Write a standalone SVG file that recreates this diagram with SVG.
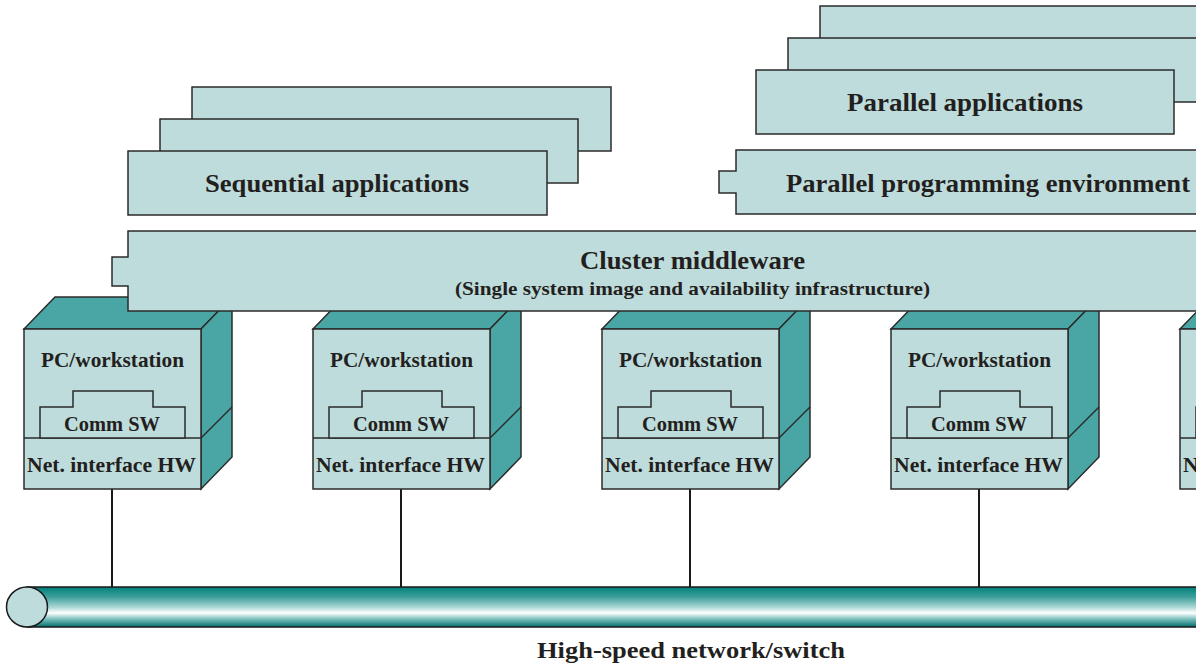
<svg xmlns="http://www.w3.org/2000/svg" width="1196" height="668" viewBox="0 0 1196 668" font-family="'Liberation Serif', 'Times New Roman', Times, serif">
<defs>
<style>
.lt{fill:#bedcdb;stroke:#2b2b2b;stroke-width:1.5}
.dk{fill:#4aa6a5;stroke:#2b2b2b;stroke-width:1.5}
.ln{stroke:#2b2b2b;stroke-width:1.5;fill:none}
text{font-family:'Liberation Serif', 'Times New Roman', Times, serif;font-weight:700;fill:#231f20;text-anchor:middle}
.t24{font-size:26px}
.t19{font-size:21px}
.t17{font-size:19px}
.t22{font-size:24px}
.wire{stroke:#1a1a1a;stroke-width:2}
</style>
<linearGradient id="bus" x1="0" y1="0" x2="0" y2="1">
<stop offset="0" stop-color="#00807b"/>
<stop offset="0.25" stop-color="#3d9f9b"/>
<stop offset="0.5" stop-color="#a8d6d3"/>
<stop offset="0.65" stop-color="#ffffff"/>
<stop offset="0.8" stop-color="#7cc0bc"/>
<stop offset="1" stop-color="#006f6b"/>
</linearGradient>
<g id="pc">
<polygon class="dk" points="24,329 55,297 232,297 201,329"/>
<polygon class="dk" points="201,329 232,297 232,457 201,489"/>
<line class="ln" x1="201" y1="438" x2="232" y2="407"/>
<rect class="lt" x="24" y="329" width="177" height="160"/>
<line class="ln" x1="24" y1="438" x2="201" y2="438"/>
<polygon class="lt" points="40,438 40,407 73,407 73,391 153,391 153,407 185,407 185,438"/>
<text class="t19" x="112.5" y="367" textLength="143" lengthAdjust="spacingAndGlyphs">PC/workstation</text>
<text class="t19" x="112" y="431" textLength="96" lengthAdjust="spacingAndGlyphs">Comm SW</text>
<text class="t19" x="111.5" y="472" textLength="169" lengthAdjust="spacingAndGlyphs">Net. interface HW</text>
</g>
</defs>

<g id="sequential-applications">
<rect class="lt" x="192" y="87" width="419" height="64"/>
<rect class="lt" x="160" y="119" width="418" height="64"/>
<rect class="lt" x="128" y="151" width="419" height="64"/>
<text class="t24" x="337" y="192" textLength="264" lengthAdjust="spacingAndGlyphs">Sequential applications</text>
</g>

<g id="parallel-applications">
<rect class="lt" x="820" y="6" width="400" height="64"/>
<rect class="lt" x="788" y="38" width="420" height="64"/>
<rect class="lt" x="756" y="70" width="418" height="64"/>
<text class="t24" x="965" y="111" textLength="236" lengthAdjust="spacingAndGlyphs">Parallel applications</text>
</g>

<g id="parallel-programming-environment">
<polygon class="lt" points="736,150 1210,150 1210,214 736,214 736,193 719,193 719,171 736,171"/>
<text class="t24" x="988" y="192" textLength="404" lengthAdjust="spacingAndGlyphs">Parallel programming environment</text>
</g>

<g id="connectors">
<line class="wire" x1="112" y1="489" x2="112" y2="588"/>
<line class="wire" x1="401" y1="489" x2="401" y2="588"/>
<line class="wire" x1="690" y1="489" x2="690" y2="588"/>
<line class="wire" x1="979" y1="489" x2="979" y2="588"/>
</g>

<g id="pc1"><use href="#pc"/></g>
<g id="pc2"><use href="#pc" x="289"/></g>
<g id="pc3"><use href="#pc" x="578"/></g>
<g id="pc4"><use href="#pc" x="867"/></g>
<g id="pc5"><use href="#pc" x="1156"/></g>

<g id="cluster-middleware">
<polygon class="lt" points="128,231 1210,231 1210,311 128,311 128,286 112,286 112,257 128,257"/>
<text class="t24" x="692.5" y="269" textLength="225" lengthAdjust="spacingAndGlyphs">Cluster middleware</text>
<text class="t17" x="692.5" y="295" textLength="475" lengthAdjust="spacingAndGlyphs">(Single system image and availability infrastructure)</text>
</g>

<g id="network">
<rect x="27" y="587" width="1180" height="40" fill="url(#bus)" stroke="#1a1a1a" stroke-width="1.5"/>
<ellipse cx="27" cy="607" rx="20.5" ry="20" fill="#bedcdb" stroke="#1a1a1a" stroke-width="1.5"/>
<text class="t22" x="691" y="658" textLength="308" lengthAdjust="spacingAndGlyphs">High-speed network/switch</text>
</g>
</svg>
